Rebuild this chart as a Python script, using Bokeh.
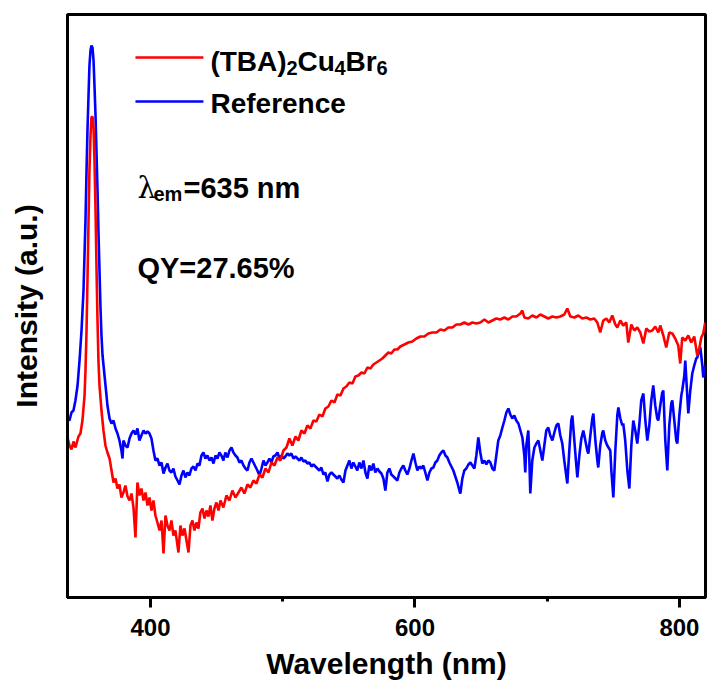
from bokeh.plotting import figure
from bokeh.models import Range1d, FixedTicker, Label
from bokeh.embed import file_html
from bokeh.resources import INLINE

# ---- data (intensity in arbitrary units) ----
red_wl = [337.2, 338.7, 340.2, 341.7, 343.2, 345.5, 347.0, 348.5, 350.1, 350.8, 351.6, 352.3, 353.1, 353.8, 354.6,
          355.3, 356.1, 356.9, 357.6, 358.4, 359.1, 359.9, 360.6, 361.4, 362.9, 364.4, 365.9, 367.4, 369.0, 370.5,
          372.0, 373.5, 375.0, 376.5, 378.0, 379.5, 381.0, 382.6, 384.1, 385.6, 387.1, 388.6, 390.1, 391.6, 393.1,
          394.7, 396.2, 397.7, 399.2, 400.7, 402.2, 403.7, 405.2, 406.8, 408.3, 409.8, 411.3, 412.8, 414.3, 415.8,
          417.3, 418.8, 420.4, 421.1, 422.6, 424.1, 425.7, 427.2, 428.7, 430.2, 431.7, 433.2, 434.7, 436.2, 437.7,
          439.3, 440.8, 442.3, 443.8, 445.3, 446.8, 448.3, 449.8, 451.4, 452.9, 455.1, 457.4, 459.7, 461.9, 464.2,
          466.5, 468.7, 471.0, 473.3, 475.5, 477.8, 480.1, 482.4, 484.6, 486.9, 489.2, 491.4, 493.7, 496.0, 498.2,
          500.5, 502.8, 505.0, 507.3, 509.6, 511.8, 514.1, 516.4, 518.6, 520.9, 523.2, 525.4, 527.7, 530.0, 532.2,
          534.5, 536.8, 539.1, 541.3, 543.6, 545.9, 548.1, 550.4, 552.7, 554.9, 557.2, 559.5, 561.7, 564.0, 566.3,
          568.5, 570.8, 573.1, 575.3, 577.6, 579.9, 582.1, 584.4, 586.7, 588.9, 592.0, 595.0, 598.0, 601.0, 604.1,
          607.1, 610.1, 613.1, 616.2, 619.2, 622.2, 625.2, 628.3, 631.3, 634.3, 637.3, 640.4, 643.4, 646.4, 649.4,
          652.5, 655.5, 658.5, 661.5, 664.5, 667.6, 670.6, 673.6, 676.6, 679.7, 681.2, 682.7, 685.7, 688.7, 691.8,
          694.8, 697.8, 700.8, 703.9, 706.9, 709.9, 712.9, 715.2, 717.5, 720.5, 723.5, 726.5, 729.6, 732.6, 735.6,
          737.9, 740.1, 742.4, 744.7, 746.9, 749.2, 751.5, 753.0, 755.3, 757.5, 759.8, 761.3, 763.6, 765.9, 768.1,
          770.4, 772.7, 774.9, 777.2, 779.5, 781.7, 784.0, 785.5, 787.8, 790.0, 792.3, 794.6, 796.8, 799.1, 800.6,
          802.1, 804.4, 806.7, 808.9, 811.2, 813.5, 815.0, 816.5, 818.0, 819.5]
red_int = [160, 152, 148, 156, 150, 161, 164, 177, 202, 227, 267, 317, 377, 427, 462,
           480, 481, 469, 437, 387, 332, 277, 237, 212, 187, 167, 152, 145, 139, 127,
           115, 119, 109, 113, 100, 105, 112, 101, 97, 104, 90, 60, 115, 102, 109,
           97, 105, 92, 100, 87, 97, 82, 75, 67, 77, 44, 82, 72, 67, 77,
           62, 67, 52, 45, 72, 62, 69, 57, 45, 72, 77, 67, 75, 69, 85,
           89, 79, 87, 81, 92, 77, 89, 95, 87, 97, 90, 102, 97, 107, 100,
           105, 110, 104, 113, 110, 117, 114, 123, 120, 129, 125, 135, 132, 140, 137,
           147, 150, 159, 152, 161, 157, 167, 164, 172, 169, 177, 176, 183, 181, 189,
           191, 197, 195, 203, 202, 209, 211, 215, 214, 221, 222, 225, 224, 230, 229,
           233, 235, 237, 239, 242, 245, 244, 248, 248, 251, 253, 255, 256, 259, 261,
           261, 264, 265, 265, 268, 267, 270, 270, 273, 273, 275, 273, 275, 274, 275,
           278, 275, 277, 279, 278, 280, 278, 281, 281, 284, 287, 280, 279, 282, 280,
           283, 281, 279, 281, 280, 281, 283, 289, 281, 280, 282, 279, 280, 278, 279,
           275, 265, 277, 279, 275, 282, 273, 270, 277, 272, 275, 255, 273, 267, 270,
           265, 254, 269, 266, 267, 271, 265, 272, 262, 250, 265, 264, 259, 252, 234,
           260, 257, 262, 255, 261, 242, 249, 260, 264, 275]

blue_wl = [337.2, 338.7, 340.2, 341.7, 343.2, 344.8, 346.3, 347.8, 349.3, 350.8, 351.6, 352.3, 353.1, 353.8, 354.6,
           355.3, 356.1, 356.9, 357.6, 358.4, 359.1, 359.9, 360.6, 361.4, 362.1, 362.9, 363.7, 365.2, 366.7, 367.4,
           369.0, 370.5, 372.0, 373.5, 375.0, 376.5, 378.0, 378.8, 379.5, 381.0, 382.6, 384.1, 385.6, 387.1, 388.6,
           390.1, 391.6, 393.1, 394.7, 396.2, 397.7, 399.2, 400.7, 402.2, 403.7, 405.2, 406.8, 408.3, 409.8, 411.3,
           412.8, 414.3, 415.8, 417.3, 418.8, 420.4, 421.9, 423.4, 424.9, 426.4, 427.9, 429.4, 430.9, 432.5, 434.0,
           435.5, 437.0, 438.5, 440.0, 441.5, 443.0, 444.6, 446.1, 447.6, 449.1, 450.6, 452.1, 453.6, 455.1, 456.6,
           458.2, 459.7, 461.2, 462.7, 464.2, 465.7, 467.2, 468.7, 470.3, 471.8, 473.3, 474.8, 476.3, 477.8, 479.3,
           480.8, 482.4, 483.9, 485.4, 486.9, 488.4, 489.9, 491.4, 492.9, 494.4, 496.0, 497.5, 499.0, 500.5, 502.0,
           503.5, 505.0, 506.5, 508.1, 509.6, 511.1, 512.6, 514.1, 515.6, 517.1, 518.6, 520.2, 521.7, 523.2, 524.7,
           526.2, 527.7, 529.2, 530.7, 532.2, 533.8, 535.3, 536.8, 538.3, 539.8, 541.3, 542.8, 544.3, 545.9, 547.4,
           548.9, 550.4, 551.9, 553.4, 554.9, 556.4, 557.9, 559.5, 561.0, 562.5, 564.0, 565.5, 567.0, 568.5, 570.0,
           571.6, 573.1, 574.6, 576.1, 577.6, 579.1, 580.6, 582.1, 583.7, 585.2, 586.7, 588.2, 589.7, 591.2, 592.7,
           594.2, 595.8, 597.3, 598.8, 600.3, 601.8, 603.3, 604.8, 606.3, 607.8, 609.4, 610.9, 612.4, 613.9, 615.4,
           616.9, 618.4, 619.9, 621.5, 623.0, 624.5, 626.0, 627.5, 629.0, 630.5, 632.0, 633.6, 634.3, 635.8, 637.3,
           638.8, 640.4, 641.9, 643.4, 644.9, 646.4, 647.9, 649.4, 650.9, 652.5, 654.0, 655.5, 657.0, 658.5, 660.0,
           661.5, 663.0, 664.5, 666.1, 667.6, 669.1, 670.6, 672.1, 673.6, 675.1, 676.6, 678.2, 679.7, 681.2, 682.7,
           683.4, 684.2, 685.7, 686.5, 687.2, 688.7, 690.3, 691.8, 693.3, 694.8, 696.3, 697.8, 699.3, 700.8, 702.3,
           703.9, 705.4, 706.9, 708.4, 709.9, 711.4, 712.9, 715.2, 716.7, 718.2, 719.0, 720.5, 722.0, 722.8, 724.3,
           725.8, 727.3, 728.8, 730.3, 731.1, 732.6, 734.1, 734.9, 736.4, 737.9, 738.6, 740.1, 741.7, 742.4, 743.9,
           745.4, 747.7, 748.5, 750.0, 751.5, 753.0, 753.8, 755.3, 756.8, 757.5, 759.0, 760.6, 762.1, 763.6, 765.1,
           766.6, 768.1, 769.6, 771.1, 772.7, 774.2, 775.7, 777.2, 778.7, 780.2, 781.7, 783.2, 784.0, 785.5, 787.0,
           787.8, 789.3, 790.8, 792.3, 793.8, 794.6, 796.1, 797.6, 798.4, 799.9, 801.4, 802.1, 803.7, 804.4, 805.9,
           806.7, 808.2, 809.7, 811.2, 812.7, 813.5, 815.0, 815.8, 817.3, 818.0, 819.5]
blue_int = [179, 177, 185, 187, 197, 212, 237, 267, 307, 377, 427, 467, 502, 532, 547,
            552, 550, 537, 512, 482, 447, 407, 367, 327, 292, 262, 242, 222, 202, 192,
            179, 174, 177, 169, 164, 157, 147, 139, 157, 152, 150, 159, 164, 167, 163,
            169, 157, 162, 167, 164, 166, 164, 159, 147, 137, 139, 132, 135, 124, 130,
            134, 127, 125, 129, 121, 117, 113, 122, 127, 120, 125, 122, 129, 131, 127,
            134, 132, 142, 145, 139, 142, 137, 140, 134, 142, 139, 145, 142, 137, 145,
            140, 147, 150, 145, 142, 140, 135, 137, 132, 129, 127, 135, 139, 135, 131,
            127, 122, 129, 137, 132, 135, 139, 135, 141, 142, 145, 139, 142, 139, 141,
            144, 142, 144, 139, 141, 139, 137, 140, 136, 137, 134, 135, 131, 133, 131,
            129, 127, 130, 123, 125, 116, 123, 125, 123, 121, 119, 122, 118, 115, 127,
            132, 137, 129, 135, 131, 127, 135, 129, 137, 125, 119, 132, 127, 134, 125,
            129, 126, 124, 119, 107, 125, 129, 123, 121, 119, 117, 125, 129, 132, 127,
            123, 129, 137, 144, 135, 127, 131, 129, 132, 125, 117, 125, 129, 130, 135,
            137, 142, 145, 147, 142, 140, 135, 131, 127, 121, 115, 107, 104, 119, 127,
            129, 133, 135, 132, 129, 142, 160, 145, 134, 137, 133, 137, 135, 129, 127,
            142, 157, 162, 170, 177, 185, 189, 183, 179, 182, 177, 174, 167, 160, 142,
            125, 152, 167, 137, 104, 137, 150, 154, 157, 147, 137, 152, 167, 170, 162,
            157, 165, 172, 174, 162, 154, 137, 114, 147, 177, 182, 157, 132, 120, 142,
            159, 167, 157, 147, 144, 162, 179, 184, 157, 137, 130, 152, 165, 167, 157,
            152, 147, 127, 100, 147, 182, 190, 179, 172, 174, 157, 127, 109, 152, 177,
            167, 154, 172, 197, 204, 177, 157, 172, 197, 212, 192, 179, 177, 192, 205,
            207, 157, 127, 172, 194, 197, 177, 157, 154, 182, 202, 207, 222, 237, 202,
            184, 207, 224, 232, 239, 240, 247, 250, 232, 220, 232]

x_ticks = [400, 600, 800]
x_minor_ticks = [500, 700]
series_names = ["(TBA)", "2", "Cu", "4", "Br", "6"]
ref_name = "Reference"
note1 = ["\u03bb", "em", "=635 nm"]
note2 = "QY=27.65%"
x_title = "Wavelength (nm)"
y_title = "Intensity (a.u.)"

RED = "#ff0000"
BLUE = "#0000ff"
FONT = "Liberation Sans"

p = figure(width=707, height=693, output_backend="svg", toolbar_location=None,
           x_range=Range1d(337.2, 819.7), y_range=Range1d(0, 583),
           min_border_left=67, min_border_right=2, min_border_top=14, min_border_bottom=96)
p.xgrid.visible = False
p.ygrid.visible = False
p.outline_line_color = "black"
p.outline_line_width = 3
p.outline_line_alpha = 1.0
p.background_fill_color = "white"
p.border_fill_color = "white"

p.line(blue_wl, blue_int, line_color=BLUE, line_width=2.6)
p.line(red_wl, red_int, line_color=RED, line_width=2.6)

# x axis
xa = p.xaxis[0]
xa.ticker = FixedTicker(ticks=x_ticks, minor_ticks=x_minor_ticks)
xa.axis_line_width = 3
xa.axis_line_color = "black"
xa.major_tick_line_width = 3
xa.major_tick_in = 0
xa.major_tick_out = 10
xa.minor_tick_line_width = 3
xa.minor_tick_in = 0
xa.minor_tick_out = 4
xa.major_label_text_font = FONT
xa.major_label_text_font_style = "bold"
xa.major_label_text_font_size = "24px"
xa.major_label_text_color = "black"
xa.major_label_standoff = 11
xa.axis_label = x_title
xa.axis_label_text_font = FONT
xa.axis_label_text_font_style = "bold"
xa.axis_label_text_font_size = "30px"
xa.axis_label_text_color = "black"
xa.axis_label_standoff = 8

# y axis
ya = p.yaxis[0]
ya.ticker = FixedTicker(ticks=[])
ya.axis_line_width = 3
ya.axis_line_color = "black"
ya.major_tick_line_color = None
ya.minor_tick_line_color = None
ya.major_label_text_font_size = "0px"
ya.major_label_standoff = 0
ya.axis_label = y_title
ya.axis_label_text_font = FONT
ya.axis_label_text_font_style = "bold"
ya.axis_label_text_font_size = "30px"
ya.axis_label_text_color = "black"
ya.axis_label_standoff = 25

# legend lines
p.line([388.6, 440.0], [540, 540], line_color=RED, line_width=2.6)
p.line([388.6, 440.0], [496, 496], line_color=BLUE, line_width=2.6)

def lab(x, y, t, size, style="bold", font=FONT):
    p.add_layout(Label(x=x, y=y, text=t, text_font=font, text_font_style=style,
                       text_font_size=size, text_color="black",
                       text_baseline="alphabetic", text_align="left"))

# legend texts with subscripts
lab(445.3, 536, series_names[0], "28px")
lab(502.8, 530, series_names[1], "20px")
lab(511.1, 536, series_names[2], "28px")
lab(539.1, 530, series_names[3], "20px")
lab(547.4, 536, series_names[4], "28px")
lab(570.8, 530, series_names[5], "20px")
lab(445.3, 494, ref_name, "28px")

# annotations
lab(390.1, 410, note1[0], "29px", style="normal", font="DejaVu Serif")
lab(402.2, 404, note1[1], "20px")
lab(424.9, 410, note1[2], "29px")
lab(390.1, 330, note2, "29px")

open("out.html", "w").write(file_html(p, INLINE))
